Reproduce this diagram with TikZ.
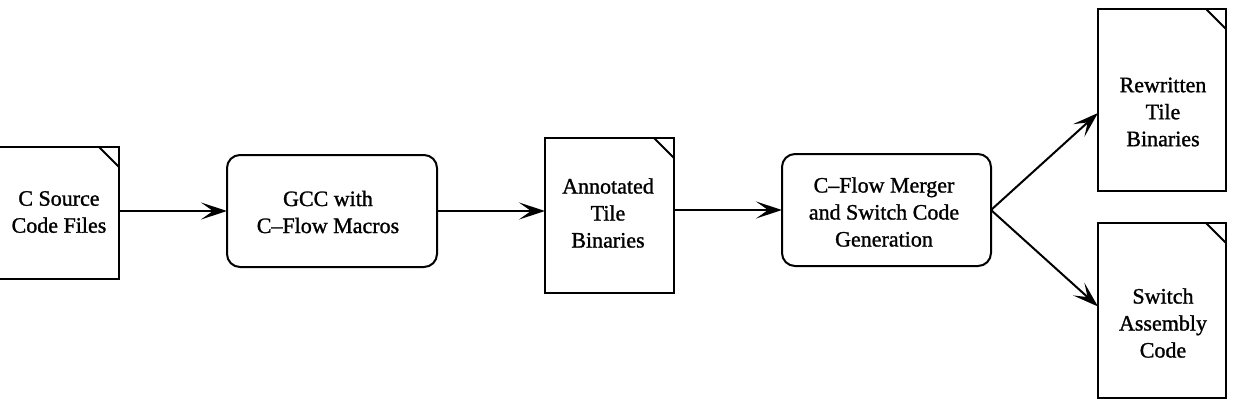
\documentclass[tikz,border=0pt]{standalone}
\usepackage{fontspec}
\setmainfont[FakeBold=1.2]{Liberation Serif}
\usetikzlibrary{arrows.meta,calc}
\begin{document}
\begin{tikzpicture}[x=1pt,y=-1pt,
  every node/.style={inner sep=0pt,outer sep=0pt},
  line/.style={line width=2pt},
  docbox/.style={draw,line width=2pt,fill=white,rectangle},
  procbox/.style={draw,line width=2pt,rounded corners=13pt,rectangle},
  lbl/.style={align=center,font=\fontsize{22}{27}\selectfont},
  arr/.style={line width=2pt,-{Stealth[length=26pt,width=17pt,inset=12pt]}}]
\useasboundingbox (0,0) rectangle (1233,402);
% document shapes
\node[docbox,minimum width=120pt,minimum height=132pt] (src) at (59,213) {};
\node[procbox,minimum width=210pt,minimum height=112pt] (gcc) at (332,211) {};
\node[docbox,minimum width=129pt,minimum height=155pt] (ann) at (609.5,215.5) {};
\node[procbox,minimum width=209pt,minimum height=112pt] (cfm) at (886.5,210) {};
\node[docbox,minimum width=128pt,minimum height=182pt] (rew) at (1162,100) {};
\node[docbox,minimum width=128pt,minimum height=175pt] (sw) at (1162,310.5) {};
% folds
\foreach \n in {src,ann,rew,sw}{
  \draw[line] ([xshift=-20pt]\n.north east) -- ([yshift=-20pt]\n.north east);
}
% labels
\node[lbl] (srct) at (59,212) {C Source\\Code Files};
\node[lbl] (gcct) at (328,212) {GCC with\\C--Flow Macros};
\node[lbl] (annt) at (608,213) {Annotated\\Tile\\Binaries};
\node[lbl] (cfmt) at (884,212) {C--Flow Merger\\and Switch Code\\Generation};
\node[lbl] (rewt) at (1163,112) {Rewritten\\Tile\\Binaries};
\node[lbl] (swt) at (1163,323) {Switch\\Assembly\\Code};
% connectors
\draw[arr] (src.east |- gcc.west) -- (gcc.west);
\draw[arr] (gcc.east) -- (ann.west |- gcc.east);
\draw[arr] (ann.east |- cfm.west) -- (cfm.west);
\draw[arr] (cfm.east) -- ([yshift=-13pt]rew.west);
\draw[arr] (cfm.east) -- ([yshift=4pt]sw.west);
\end{tikzpicture}
\end{document}
